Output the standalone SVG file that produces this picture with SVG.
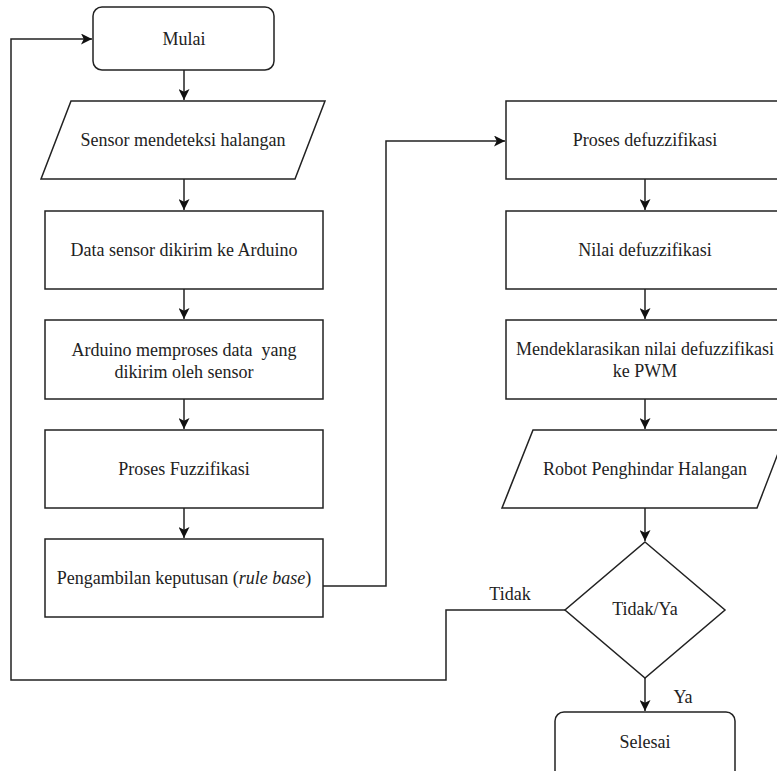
<svg xmlns="http://www.w3.org/2000/svg" width="777" height="771" viewBox="0 0 777 771" font-family="Liberation Serif, DejaVu Serif, serif">
<defs>
<marker id="arr" viewBox="0 0 10 10" refX="10" refY="5" markerWidth="11" markerHeight="11" markerUnits="userSpaceOnUse" orient="auto">
<path d="M0,0 L10,5 L0,10 L2.5,5 Z" fill="#111"/>
</marker>
<style>
.s{fill:#fff;stroke:#222;stroke-width:1.5}
.c{fill:none;stroke:#222;stroke-width:1.5}
.t{font-size:18px;fill:#222;text-anchor:middle}
</style>
</defs>
<rect width="777" height="771" fill="#fff"/>
<g id="connectors">
<path class="c" d="M184,70 V100" marker-end="url(#arr)"/>
<path class="c" d="M184,179 V210" marker-end="url(#arr)"/>
<path class="c" d="M184,289 V319" marker-end="url(#arr)"/>
<path class="c" d="M184,399 V429" marker-end="url(#arr)"/>
<path class="c" d="M184,508 V538" marker-end="url(#arr)"/>
<path class="c" d="M323,586 H386 V141 H505" marker-end="url(#arr)"/>
<path class="c" d="M645,179 V210" marker-end="url(#arr)"/>
<path class="c" d="M645,289 V319" marker-end="url(#arr)"/>
<path class="c" d="M645,399 V429" marker-end="url(#arr)"/>
<path class="c" d="M645,508 V541" marker-end="url(#arr)"/>
<path class="c" d="M645,678 V711" marker-end="url(#arr)"/>
<path class="c" d="M565,610 H446 V680 H11 V39 H92" marker-end="url(#arr)"/>
<text class="t" x="510" y="600">Tidak</text>
<text class="t" x="683" y="703">Ya</text>
</g>
<g id="mulai">
<rect class="s" x="93" y="7" width="181" height="63" rx="9"/>
<text class="t" x="184" y="45">Mulai</text>
</g>
<g id="sensor">
<path class="s" d="M71,101 H325 L295,179 H41 Z"/>
<text class="t" x="183" y="146">Sensor mendeteksi halangan</text>
</g>
<g id="data">
<rect class="s" x="45" y="211" width="278" height="78"/>
<text class="t" x="184" y="256">Data sensor dikirim ke Arduino</text>
</g>
<g id="memproses">
<rect class="s" x="45" y="320" width="278" height="79"/>
<text class="t" x="184" y="356" xml:space="preserve">Arduino memproses data  yang</text>
<text class="t" x="184" y="378">dikirim oleh sensor</text>
</g>
<g id="fuzzifikasi">
<rect class="s" x="45" y="430" width="278" height="78"/>
<text class="t" x="184" y="475">Proses Fuzzifikasi</text>
</g>
<g id="rulebase">
<rect class="s" x="45" y="539" width="278" height="78"/>
<text class="t" x="184" y="584">Pengambilan keputusan (<tspan font-style="italic">rule base</tspan>)</text>
</g>
<g id="defuzzifikasi">
<rect class="s" x="506" y="101" width="278" height="78"/>
<text class="t" x="645" y="146">Proses defuzzifikasi</text>
</g>
<g id="nilai">
<rect class="s" x="506" y="211" width="278" height="78"/>
<text class="t" x="645" y="256">Nilai defuzzifikasi</text>
</g>
<g id="pwm">
<rect class="s" x="506" y="320" width="278" height="79"/>
<text class="t" x="645" y="355">Mendeklarasikan nilai defuzzifikasi</text>
<text class="t" x="645" y="377">ke PWM</text>
</g>
<g id="robot">
<path class="s" d="M533,430 H787 L757,508 H502 Z"/>
<text class="t" x="645" y="475">Robot Penghindar Halangan</text>
</g>
<g id="keputusan">
<path class="s" d="M645,542 L725,610 L645,678 L565,610 Z"/>
<text class="t" x="645" y="615">Tidak/Ya</text>
</g>
<g id="selesai">
<rect class="s" x="555" y="712" width="180" height="70" rx="9"/>
<text class="t" x="645" y="748">Selesai</text>
</g>
</svg>
